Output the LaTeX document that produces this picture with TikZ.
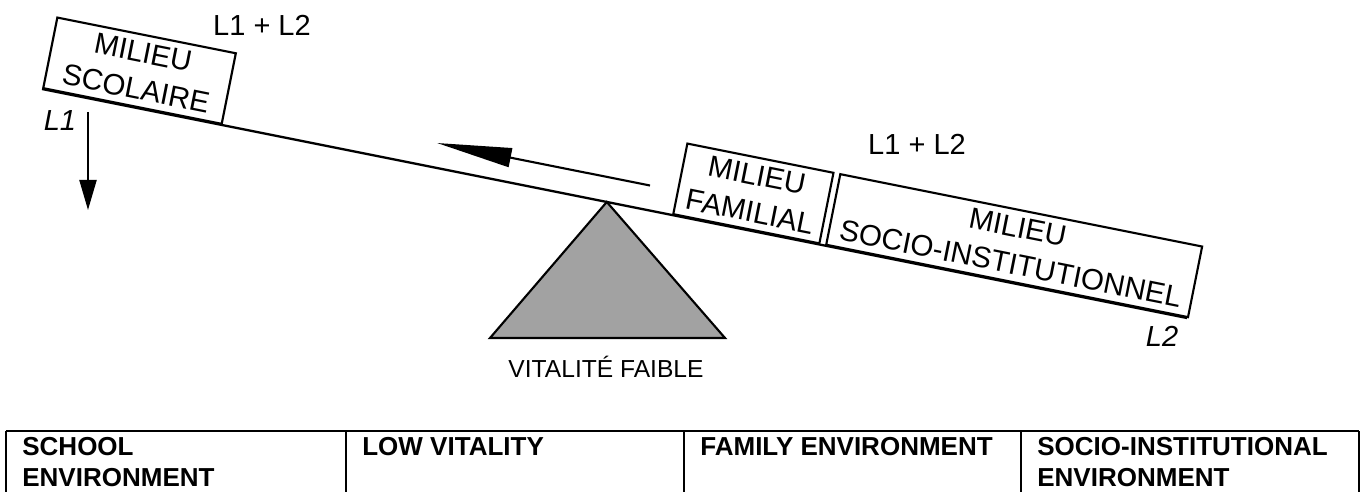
\documentclass[tikz,border=0pt]{standalone}
\usepackage{fontspec}
\setmainfont{Liberation Sans}
\usetikzlibrary{arrows.meta, positioning, calc}
\definecolor{FulcrumGray}{RGB}{162,162,162}

\begin{document}
\begin{tikzpicture}[
                    milieu/.style={rectangle, draw=black, line width=1.2pt, rotate=-11.31, anchor=south west, inner sep=0pt, minimum height=1.44cm, align=center, font=\fontsize{16.8}{21}\selectfont},
                    lang/.style={inner sep=0pt, font=\fontsize{16.5}{18}\selectfont},
                    cell/.style={anchor=north west, inner sep=0pt, align=left, font=\fontsize{14.8}{17.6}\selectfont\bfseries},
                    grid/.style={line width=1.1pt}
                ]
                    \useasboundingbox (0,0) rectangle (27.28,9.84);

                    % seesaw beam and loads
                    \coordinate (beamL) at (0.84,8.06);
                    \coordinate (beamR) at (23.74,3.48);
                    \draw[line width=1.3pt] (beamL) -- (beamR);
                    \node[milieu, minimum width=3.64cm] (scolaire) at (beamL) {MILIEU\\SCOLAIRE};
                    \node[milieu, minimum width=2.98cm] (familial) at ($(beamL)!12.85cm!(beamR)$) {MILIEU\\FAMILIAL};
                    \node[milieu, minimum width=7.38cm] (socio) at ($(beamL)!15.97cm!(beamR)$) {MILIEU\\SOCIO-INSTITUTIONNEL};

                    % fulcrum
                    \coordinate (apex) at ($(beamL)!11.52cm!(beamR)$);
                    \coordinate (baseMid) at (12.12,3.08);
                    \draw[fill=FulcrumGray, line width=1.2pt] (apex) -- (9.8,3.08) -- (14.5,3.08) -- cycle;
                    \node[inner sep=0pt, font=\fontsize{14}{16}\selectfont, below=0.36cm of baseMid] (vitalite) {VITALITÉ FAIBLE};

                    % arrows
                    \coordinate (pushS) at (13.0,6.13);
                    \coordinate (pushE) at (8.74,6.98);
                    \draw[line width=1.2pt, -{Triangle[length=1.5cm, width=0.38cm]}] (pushS) -- (pushE);
                    \coordinate (dropS) at (1.76,7.6);
                    \coordinate (dropE) at (1.76,5.64);
                    \draw[line width=1.2pt, -{Triangle[length=0.6cm, width=0.34cm]}] (dropS) -- (dropE);

                    % language labels
                    \node[lang] (mixTop) at (5.24,9.34) {L1 + L2};
                    \node[lang] (mixMid) at (18.34,6.96) {L1 + L2};
                    \node[lang, font=\fontsize{16.5}{18}\selectfont\itshape] (langOne) at (1.2,7.42) {L1};
                    \node[lang, font=\fontsize{16.5}{18}\selectfont\itshape] (langTwo) at (23.24,3.12) {L2};

                    % legend table
                    \draw[grid] (0.12,1.22) -- (27.18,1.22);
                    \foreach \x in {0.12,6.92,13.68,20.42,27.18}
                        \draw[grid] (\x,1.22) -- (\x,0);
                    \node[cell] (school) at (0.44,1.1) {SCHOOL\\ENVIRONMENT};
                    \node[cell] (lowvit) at (7.24,1.1) {LOW VITALITY};
                    \node[cell] (family) at (14.0,1.1) {FAMILY ENVIRONMENT};
                    \node[cell] (sociocell) at (20.74,1.1) {SOCIO-INSTITUTIONAL\\ENVIRONMENT};
                \end{tikzpicture}
\end{document}
